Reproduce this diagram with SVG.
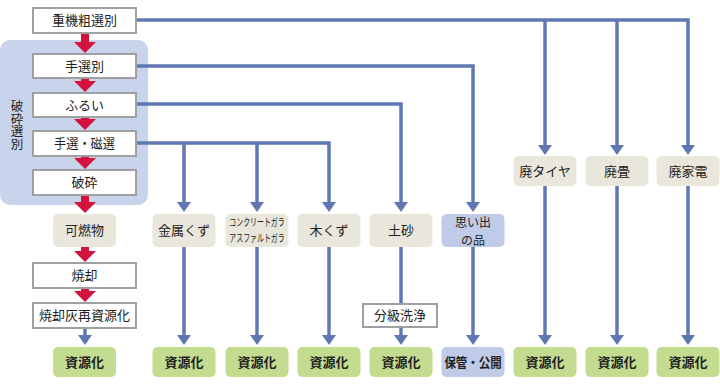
<svg xmlns="http://www.w3.org/2000/svg" width="720" height="385" viewBox="0 0 720 385">
<style>
text{font-family:"Noto Sans CJK JP","Noto Sans",sans-serif;font-size:13px;fill:#222;text-anchor:middle}
.bd{font-weight:bold}
.w{fill:#fff;stroke:#a0a0a0;stroke-width:2}
.b{fill:#e9e6dc}
.g{fill:#c4dc8f}
.p{fill:#bfcbe7}
.c{fill:none;stroke:#6078b2;stroke-width:3.5}
.r{fill:none;stroke:#d3123d;stroke-width:8}
</style>
<defs>
<marker id="ab" markerUnits="userSpaceOnUse" viewBox="0 0 10 14" markerWidth="10" markerHeight="14" refX="3" refY="7" orient="auto"><path d="M0,0L10,7L0,14z" fill="#6078b2"/></marker>
<marker id="ar" markerUnits="userSpaceOnUse" viewBox="0 0 11 22" markerWidth="11" markerHeight="22" refX="1" refY="11" orient="auto"><path d="M0,0L11,11L0,22z" fill="#d3123d"/></marker>
</defs>
<rect x="0" y="40" width="148" height="165" rx="10" fill="#c8d4ec"/>
<text x="17" y="125" style="writing-mode:vertical-rl;font-size:12.5px">破砕選別</text>
<g id="connectors">
<path class="c" d="M137,20H688V148" marker-end="url(#ab)"/>
<path class="c" d="M545,20V148" marker-end="url(#ab)"/>
<path class="c" d="M617,20V148" marker-end="url(#ab)"/>
<path class="c" d="M137,66H473V205" marker-end="url(#ab)"/>
<path class="c" d="M137,104H401V205" marker-end="url(#ab)"/>
<path class="c" d="M137,143H329V205" marker-end="url(#ab)"/>
<path class="c" d="M184,143V205" marker-end="url(#ab)"/>
<path class="c" d="M257,143V205" marker-end="url(#ab)"/>
<path class="c" d="M184,247V338" marker-end="url(#ab)"/>
<path class="c" d="M257,247V338" marker-end="url(#ab)"/>
<path class="c" d="M329,247V338" marker-end="url(#ab)"/>
<path class="c" d="M401,247V304"/>
<path class="c" d="M401,327V338" marker-end="url(#ab)"/>
<path class="c" d="M473,247V338" marker-end="url(#ab)"/>
<path class="c" d="M545,186V338" marker-end="url(#ab)"/>
<path class="c" d="M617,186V338" marker-end="url(#ab)"/>
<path class="c" d="M688,186V338" marker-end="url(#ab)"/>
<path class="c" d="M85,328V338" marker-end="url(#ab)"/>
<path class="r" d="M85,33V43" marker-end="url(#ar)"/>
<path class="r" d="M85,78V82" marker-end="url(#ar)"/>
<path class="r" d="M85,117V120" marker-end="url(#ar)"/>
<path class="r" d="M85,156V159" marker-end="url(#ar)"/>
<path class="r" d="M85,195V203" marker-end="url(#ar)"/>
<path class="r" d="M85,247V252" marker-end="url(#ar)"/>
<path class="r" d="M85,288V292" marker-end="url(#ar)"/>
</g>
<g id="n1"><rect class="w" x="33" y="8" width="103" height="25"/><text x="84.5" y="25">重機粗選別</text></g>
<g id="n2"><rect class="w" x="33" y="54" width="103" height="24"/><text x="84.5" y="70.5">手選別</text></g>
<g id="n3"><rect class="w" x="33" y="93" width="103" height="24"/><text x="84.5" y="109.5">ふるい</text></g>
<g id="n4"><rect class="w" x="33" y="131" width="103" height="25"/><text transform="translate(84.5,148) scale(0.94,1)">手選・磁選</text></g>
<g id="n5"><rect class="w" x="33" y="170" width="103" height="25"/><text x="84.5" y="187">破砕</text></g>
<g id="n6"><rect class="b" x="53" y="214" width="63" height="33" rx="5"/><text x="84.5" y="235">可燃物</text></g>
<g id="n7"><rect class="w" x="33" y="263" width="103" height="25"/><text x="84.5" y="280">焼却</text></g>
<g id="n8"><rect class="w" x="33" y="303" width="103" height="25"/><text x="84.5" y="320">焼却灰再資源化</text></g>
<g id="n9"><rect class="b" x="152.5" y="214" width="63" height="33" rx="5"/><text x="184" y="235">金属くず</text></g>
<g id="n10"><rect class="b" x="225.5" y="214" width="63" height="33" rx="5"/><text transform="translate(257,0) scale(0.66,1)" style="font-size:10.5px"><tspan x="0" y="226.5">コンクリートガラ</tspan><tspan x="0" y="242.5">アスファルトガラ</tspan></text></g>
<g id="n11"><rect class="b" x="297.5" y="214" width="63" height="33" rx="5"/><text x="329" y="235">木くず</text></g>
<g id="n12"><rect class="b" x="369.5" y="214" width="63" height="33" rx="5"/><text x="401" y="235">土砂</text></g>
<g id="n13"><rect class="p" x="441.5" y="214" width="63" height="33" rx="5"/><text x="473" y="227" style="font-size:12px"><tspan x="473" y="227">思い出</tspan><tspan x="473" y="244.5">の品</tspan></text></g>
<g id="n14"><rect class="b" x="513.5" y="156" width="63" height="30" rx="5"/><text x="545" y="175.5">廃タイヤ</text></g>
<g id="n15"><rect class="b" x="585.5" y="156" width="63" height="30" rx="5"/><text x="617" y="175.5">廃畳</text></g>
<g id="n16"><rect class="b" x="656.5" y="156" width="63" height="30" rx="5"/><text x="688" y="175.5">廃家電</text></g>
<g id="n17"><rect class="w" x="363" y="304" width="74" height="23"/><text x="400" y="320">分級洗浄</text></g>
<g id="n18"><rect class="g" x="53" y="347" width="63" height="30" rx="5"/><text class="bd" x="84.5" y="366.5">資源化</text></g>
<g id="n19"><rect class="g" x="152.5" y="347" width="63" height="30" rx="5"/><text class="bd" x="184" y="366.5">資源化</text></g>
<g id="n20"><rect class="g" x="225.5" y="347" width="63" height="30" rx="5"/><text class="bd" x="257" y="366.5">資源化</text></g>
<g id="n21"><rect class="g" x="297.5" y="347" width="63" height="30" rx="5"/><text class="bd" x="329" y="366.5">資源化</text></g>
<g id="n22"><rect class="g" x="369.5" y="347" width="63" height="30" rx="5"/><text class="bd" x="401" y="366.5">資源化</text></g>
<g id="n23"><rect class="p" x="441.5" y="347" width="63" height="30" rx="5"/><text class="bd" transform="translate(473,366.5) scale(0.88,1)">保管・公開</text></g>
<g id="n24"><rect class="g" x="513.5" y="347" width="63" height="30" rx="5"/><text class="bd" x="545" y="366.5">資源化</text></g>
<g id="n25"><rect class="g" x="585.5" y="347" width="63" height="30" rx="5"/><text class="bd" x="617" y="366.5">資源化</text></g>
<g id="n26"><rect class="g" x="656.5" y="347" width="63" height="30" rx="5"/><text class="bd" x="688" y="366.5">資源化</text></g>
</svg>
